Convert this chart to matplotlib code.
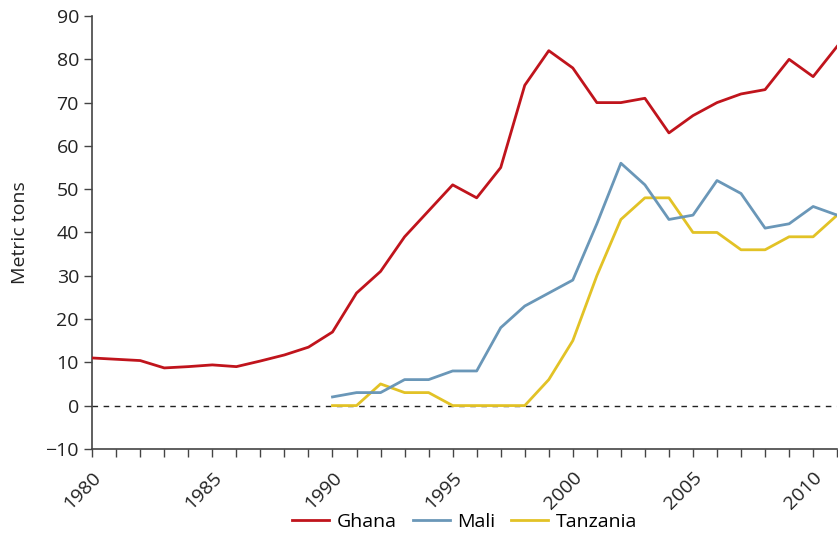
import numpy as np
import matplotlib.pyplot as plt
from matplotlib.ticker import MultipleLocator

plt.rcParams['font.family'] = ['Open Sans', 'DejaVu Sans']

years_ghana = list(range(1980, 2012))
ghana = [11, 10.7, 10.4, 8.7, 9, 9.4, 9, 10.3, 11.7, 13.5,
         17, 26, 31, 39, 45, 51, 48, 55, 74, 82,
         78, 70, 70, 71, 63, 67, 70, 72, 73, 80, 76, 83]

years_90 = list(range(1990, 2012))
mali = [2, 3, 3, 6, 6, 8, 8, 18, 23, 26, 29,
        42, 56, 51, 43, 44, 52, 49, 41, 42, 46, 44]
tanzania = [0, 0, 5, 3, 3, 0, 0, 0, 0, 6, 15,
            30, 43, 48, 48, 40, 40, 36, 36, 39, 39, 44]

x_ticks = [1980, 1985, 1990, 1995, 2000, 2005, 2010]
y_ticks = list(range(-10, 91, 10))

fig = plt.figure(figsize=(8.38, 5.35), dpi=100)
ax = fig.add_axes([0.11, 0.161, 0.889, 0.809])

ax.axhline(0, color='#222222', lw=1, ls=(0, (4, 4)), zorder=1)
ax.plot(years_ghana, ghana, color='#C0141C', lw=2, label='Ghana', zorder=3)
ax.plot(years_90, mali, color='#6A97B8', lw=2, label='Mali', zorder=3)
ax.plot(years_90, tanzania, color='#E2C226', lw=2, label='Tanzania', zorder=2)

ax.set_xlim(1980, 2011)
ax.set_ylim(-10, 90)
ax.set_xticks(x_ticks)
ax.xaxis.set_minor_locator(MultipleLocator(1))
ax.set_yticks(y_ticks)
ax.set_yticklabels([str(v).replace('-', '\u2212') for v in y_ticks])

for s in ['top', 'right']:
    ax.spines[s].set_visible(False)
for s in ['left', 'bottom']:
    ax.spines[s].set_color('#444444')
    ax.spines[s].set_linewidth(1.2)

ax.tick_params(axis='both', which='both', direction='out', length=6,
               width=1, color='#444444', labelsize=14, labelcolor='#222222')
ax.tick_params(axis='x', which='major', pad=8)
plt.setp(ax.get_xticklabels(), rotation=45, ha='right', rotation_mode='anchor')

ax.set_ylabel('Metric tons', fontsize=14, color='#222222', labelpad=12)

ax.legend(loc='center', bbox_to_anchor=(0.5, -0.169), ncol=3,
          frameon=False, fontsize=14, handlelength=1.9, columnspacing=0.8,
          handletextpad=0.4)

fig.savefig('out.png', dpi=100)
